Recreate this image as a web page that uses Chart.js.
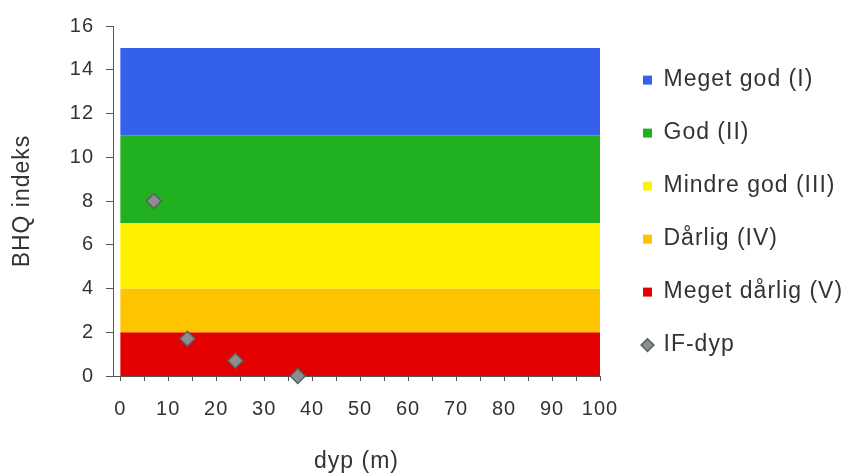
<!DOCTYPE html>
<html>
<head>
<meta charset="utf-8">
<script src="https://cdn.jsdelivr.net/npm/chart.js@4/dist/chart.umd.min.js"></script>
<style>
  html, body { margin: 0; padding: 0; background: #ffffff; }
  #wrap { width: 848px; height: 475px; }
</style>
</head>
<body>
<div id="wrap"><canvas id="c" width="848" height="475"></canvas></div>
<script>
// ---- data ----
const bandNames = ['Meget god (I)', 'God (II)', 'Mindre god (III)', 'Dårlig (IV)', 'Meget dårlig (V)'];
const bandTops = [15, 11, 7, 4, 2];
const bandColors = ['#3560ec', '#20b020', '#fff200', '#ffc400', '#e20000'];
const bandStartX = 0;
const bandEndX = 100;

const pointName = 'IF-dyp';
const depthX = [7, 14, 24, 37];
const bhqY = [8, 1.7, 0.7, 0];

const xTicks = [0, 5, 10, 15, 20, 25, 30, 35, 40, 45, 50, 55, 60, 65, 70, 75, 80, 85, 90, 95, 100];
const yTicks = [0, 2, 4, 6, 8, 10, 12, 14, 16];

const xTitle = 'dyp (m)';
const yTitle = 'BHQ indeks';

// ---- datasets ----
const datasets = bandNames.map((name, i) => ({
  type: 'line',
  label: name,
  data: [{x: bandStartX, y: bandTops[i]}, {x: bandEndX, y: bandTops[i]}],
  backgroundColor: bandColors[i],
  borderColor: bandColors[i],
  borderWidth: 0,
  pointRadius: 0,
  pointHoverRadius: 0,
  pointStyle: 'rect',
  fill: i === bandNames.length - 1 ? 'origin' : '+1',
  order: 1
}));
datasets.push({
  type: 'scatter',
  label: pointName,
  data: depthX.map((x, i) => ({x: x, y: bhqY[i]})),
  backgroundColor: '#8e8e8e',
  borderColor: '#566262',
  borderWidth: 1.5,
  pointStyle: 'rectRot',
  pointRadius: 7.5,
  pointHoverRadius: 7.5,
  order: 0,
  clip: false
});

const textColor = '#333333';
const axisColor = '#555555';
const FONT = '"Liberation Sans", Arial, sans-serif';
const SPACING = '1px';

const tweaks = {
  id: 'tweaks',
  beforeLayout(chart) {
    chart.ctx.letterSpacing = SPACING;
    const lg = chart.legend;
    if (lg && !lg._patched) {
      const f = lg.fit.bind(lg);
      lg.fit = function () { f(); this.width = 248; };
      lg._patched = true;
    }
  },
  afterLayout(chart) {
    const lg = chart.legend;
    if (lg) { lg.left += 13; lg.right += 13; }
  },
  beforeDraw(chart) {
    chart.ctx.letterSpacing = SPACING;
  }
};

new Chart(document.getElementById('c'), {
  data: { datasets },
  options: {
    responsive: false,
    animation: false,
    events: [],
    layout: { padding: { left: 9, top: 26, right: 0, bottom: 0 } },
    scales: {
      x: {
        type: 'linear',
        min: -1.5,
        max: 100,
        afterBuildTicks(scale) { scale.ticks = xTicks.map(v => ({value: v})); },
        afterFit(scale) { scale.height = 99; },
        ticks: {
          autoSkip: false,
          maxRotation: 0,
          color: textColor,
          font: { family: FONT, size: 20 },
          padding: 16,
          callback: (v) => (v % 10 === 0 ? String(v) : '')
        },
        grid: { drawOnChartArea: false, drawTicks: true, tickLength: 5, tickColor: axisColor },
        border: { display: true, color: axisColor, width: 1 },
        title: { display: true, text: xTitle, color: textColor, font: { family: FONT, size: 23 }, padding: 0 }
      },
      y: {
        type: 'linear',
        min: 0,
        max: 16,
        afterBuildTicks(scale) { scale.ticks = yTicks.map(v => ({value: v})); },
        afterFit(scale) { scale.width = 104; },
        ticks: {
          color: textColor,
          font: { family: FONT, size: 20 },
          padding: 12
        },
        grid: { drawOnChartArea: false, drawTicks: true, tickLength: 7, tickColor: axisColor },
        border: { display: true, color: axisColor, width: 1 },
        title: { display: true, text: yTitle, color: textColor, font: { family: FONT, size: 23 }, padding: 0 }
      }
    },
    plugins: {
      tooltip: { enabled: false },
      legend: {
        position: 'right',
        align: 'start',
        title: { display: true, text: ' ', font: { size: 8 }, padding: 1.5 },
        labels: {
          usePointStyle: true,
          boxWidth: 9,
          boxHeight: 9,
          padding: 30,
          color: textColor,
          font: { family: FONT, size: 23 },
          sort: (a, b) => a.datasetIndex - b.datasetIndex
        }
      }
    }
  },
  plugins: [tweaks]
});
</script>
</body>
</html>
